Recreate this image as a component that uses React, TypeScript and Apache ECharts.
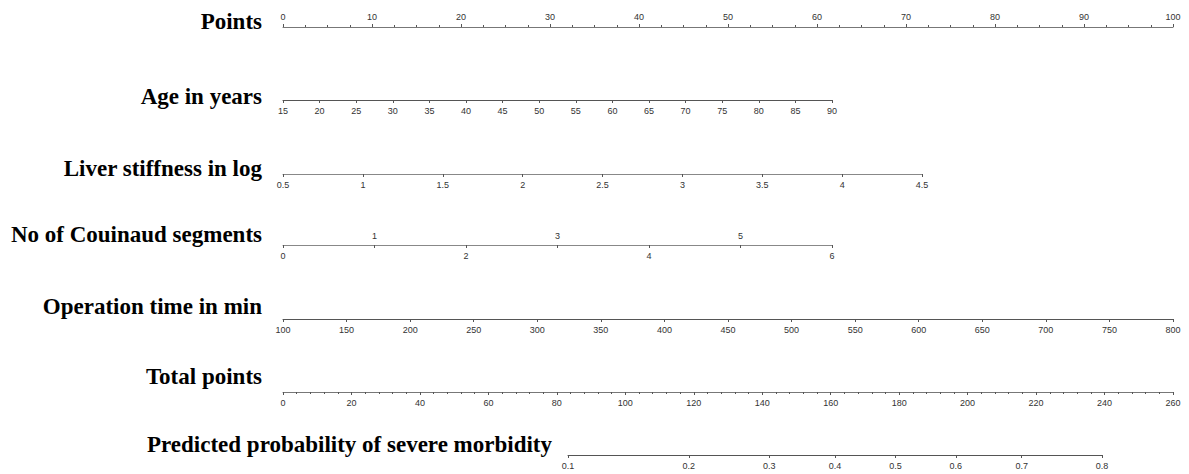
import React, { useEffect, useRef } from "react";
import * as echarts from "echarts";

const rowTitles = [
  "Points",
  "Age in years",
  "Liver stiffness in log",
  "No of Couinaud segments",
  "Operation time in min",
  "Total points",
  "Predicted probability of severe morbidity",
];
const pointsTicks = [0, 10, 20, 30, 40, 50, 60, 70, 80, 90, 100];
const ageTicks = [15, 20, 25, 30, 35, 40, 45, 50, 55, 60, 65, 70, 75, 80, 85, 90];
const liverTicks = [0.5, 1, 1.5, 2, 2.5, 3, 3.5, 4, 4.5];
const couinaudTicks = [0, 1, 2, 3, 4, 5, 6];
const operationTicks = [100, 150, 200, 250, 300, 350, 400, 450, 500, 550, 600, 650, 700, 750, 800];
const totalTicks = [0, 20, 40, 60, 80, 100, 120, 140, 160, 180, 200, 220, 240, 260];
const probTicks = [0.1, 0.2, 0.3, 0.4, 0.5, 0.6, 0.7, 0.8];

const logit = (p: number) => Math.log(p / (1 - p));

const LINE = "#555";
const LABEL = "#333";
const FONT = "Liberation Sans";

// layout (pixels)
const rows = [
  { left: 283, right: 1173, y: 27 },
  { left: 283, right: 832, y: 100 },
  { left: 283, right: 922, y: 174 },
  { left: 283, right: 832, y: 245 },
  { left: 283, right: 1173, y: 319 },
  { left: 283, right: 1173, y: 392 },
  { left: 568, right: 1102, y: 455 },
];
const titlePos = [
  { x: 262, y: 21 },
  { x: 262, y: 96 },
  { x: 262, y: 168 },
  { x: 262, y: 234 },
  { x: 262, y: 306 },
  { x: 262, y: 376 },
  { x: 552, y: 444 },
];

function baseAxis(gridIndex: number, ticks: number[], extra: any = {}) {
  const interval = ticks.length > 1 ? ticks[1] - ticks[0] : 1;
  return {
    type: "value",
    gridIndex,
    min: ticks[0],
    max: ticks[ticks.length - 1],
    interval,
    position: "bottom",
    axisLine: { show: true, onZero: false, lineStyle: { color: LINE, width: 1 } },
    axisTick: { show: true, length: 3, lineStyle: { color: LINE, width: 1 } },
    axisLabel: {
      show: true,
      fontSize: 9,
      color: LABEL,
      fontFamily: FONT,
      margin: 6,
      showMinLabel: true,
      showMaxLabel: true,
    },
    splitLine: { show: false },
    ...extra,
  };
}

export default function App() {
  const ref = useRef<HTMLDivElement>(null);
  useEffect(() => {
    if (!ref.current) return;
    const chart = echarts.init(ref.current, null, { renderer: "svg" });
    const grids: any[] = rows.map((r) => ({
      left: r.left,
      width: r.right - r.left,
      top: r.y,
      height: 0,
      containLabel: false,
    }));
    // extra grid for Couinaud odd labels (above)
    grids.push({ left: rows[3].left, width: rows[3].right - rows[3].left, top: rows[3].y, height: 0, containLabel: false });

    const xAxes: any[] = [
      baseAxis(0, pointsTicks, {
        position: "top",
        minorTick: { show: true, splitNumber: 4, length: 2, lineStyle: { color: LINE } },
        axisLine: { show: true, onZero: false, lineStyle: { color: "#777", width: 1 } },
        axisLabel: { show: true, fontSize: 9, color: LABEL, fontFamily: FONT, margin: 6 },
      }),
      baseAxis(1, ageTicks),
      baseAxis(2, liverTicks, {
        axisLine: { show: true, onZero: false, lineStyle: { color: "#888", width: 1 } },
      }),
      baseAxis(3, couinaudTicks, {
        axisLine: { show: true, onZero: false, lineStyle: { color: "#888", width: 1 } },
        axisLabel: {
          show: true,
          fontSize: 9,
          color: LABEL,
          fontFamily: FONT,
          margin: 6,
          formatter: (v: number) => (Math.round(v) % 2 === 0 ? String(v) : ""),
        },
      }),
      baseAxis(4, operationTicks),
      baseAxis(5, totalTicks, {
        minorTick: { show: true, splitNumber: 5, length: 2, lineStyle: { color: LINE } },
        axisLine: { show: true, onZero: false, lineStyle: { color: "#777", width: 1 } },
      }),
      {
        type: "value",
        gridIndex: 6,
        min: logit(probTicks[0]),
        max: logit(probTicks[probTicks.length - 1]),
        position: "bottom",
        axisLine: { show: true, onZero: false, lineStyle: { color: LINE, width: 1 } },
        axisTick: { show: true, length: 3, customValues: probTicks.map(logit), lineStyle: { color: LINE } },
        axisLabel: {
          show: true,
          fontSize: 9,
          color: LABEL,
          fontFamily: FONT,
          margin: 6,
          customValues: probTicks.map(logit),
          formatter: (v: number) => (1 / (1 + Math.exp(-v))).toFixed(1),
        },
        splitLine: { show: false },
      },
      baseAxis(7, couinaudTicks, {
        position: "top",
        axisLine: { show: false, onZero: false },
        axisTick: { show: false },
        axisLabel: {
          show: true,
          fontSize: 9,
          color: LABEL,
          fontFamily: FONT,
          margin: 5,
          formatter: (v: number) => (Math.round(v) % 2 === 1 ? String(v) : ""),
        },
      }),
    ];
    const yAxes = grids.map((_, i) => ({ type: "value", gridIndex: i, show: false, min: 0, max: 1 }));

    chart.setOption({
      animation: false,
      backgroundColor: "#fff",
      grid: grids,
      xAxis: xAxes,
      yAxis: yAxes,
      series: [],
      graphic: rowTitles.map((t, i) => ({
        type: "text",
        x: titlePos[i].x,
        y: titlePos[i].y,
        style: {
          text: t,
          align: "right",
          verticalAlign: "middle",
          fontFamily: "Liberation Serif",
          fontWeight: "bold",
          fontSize: 23,
          fill: "#000",
        },
      })),
    });
    return () => chart.dispose();
  }, []);
  return (
    <div
      ref={ref}
      style={{ position: "absolute", left: 0, top: 0, width: 1189, height: 474 }}
    />
  );
}
